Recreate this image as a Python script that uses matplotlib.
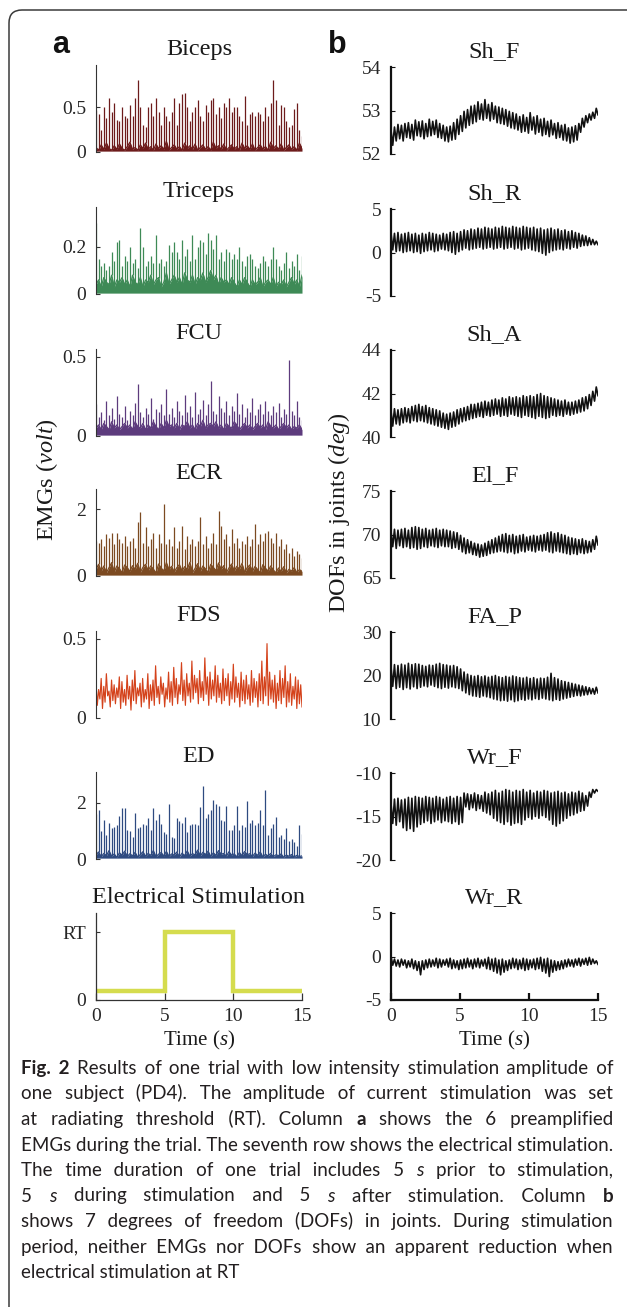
import numpy as np
import matplotlib
matplotlib.use('Agg')
import matplotlib.pyplot as plt
from matplotlib.patches import FancyBboxPatch
from matplotlib.transforms import IdentityTransform

plt.rcParams['font.family'] = ['Liberation Serif', 'DejaVu Serif']
plt.rcParams['mathtext.fontset'] = 'custom'
plt.rcParams['mathtext.rm'] = 'Liberation Serif'
plt.rcParams['mathtext.it'] = 'Liberation Serif:italic'

W, H = 627, 1307

# ---------------------------------------------------------------------------
# Column a: EMG traces (spike peaks and the noise band level between spikes)
# ---------------------------------------------------------------------------
emg_names = ['Biceps', 'Triceps', 'FCU', 'ECR', 'FDS', 'ED']
emg_ytop = [0.97, 0.37, 0.55, 2.6, 0.55, 3.1]
emg_ticks = [[0, 0.5], [0, 0.2], [0, 0.5], [0, 2], [0, 0.5], [0, 2]]
emg_ticklabels = [['0', '0.5'], ['0', '0.2'], ['0', '0.5'], ['0', '2'], ['0', '0.5'], ['0', '2']]

biceps_peaks = [0.47, 0.42, 0.25, 0.50, 0.38, 0.60, 0.45, 0.55, 0.36, 0.35,
                0.50, 0.40, 0.38, 0.52, 0.40, 0.60, 0.80, 0.50, 0.30, 0.28,
                0.50, 0.55, 0.40, 0.60, 0.45, 0.30, 0.50, 0.40, 0.35, 0.45,
                0.60, 0.30, 0.55, 0.65, 0.66, 0.50, 0.35, 0.45, 0.50, 0.58,
                0.40, 0.35, 0.52, 0.45, 0.58, 0.60, 0.42, 0.50, 0.38, 0.55,
                0.50, 0.60, 0.45, 0.50, 0.50, 0.40, 0.35, 0.62, 0.30, 0.42,
                0.45, 0.40, 0.45, 0.42, 0.35, 0.50, 0.40, 0.55, 0.80, 0.58,
                0.30, 0.52, 0.50, 0.35, 0.28, 0.30, 0.48, 0.55, 0.25, 0.18]
biceps_troughs = [0.05, 0.02, 0.08, 0.03, 0.10, 0.04, 0.02, 0.07, 0.03, 0.09,
                  0.04, 0.02, 0.06, 0.11, 0.03, 0.05, 0.02, 0.08, 0.04, 0.10,
                  0.03, 0.06, 0.02, 0.09, 0.04, 0.07, 0.03, 0.12, 0.02, 0.05,
                  0.08, 0.03, 0.06, 0.02, 0.10, 0.04, 0.07, 0.03, 0.09, 0.02,
                  0.05, 0.08, 0.03, 0.06, 0.02, 0.11, 0.04, 0.07, 0.03, 0.09,
                  0.02, 0.05, 0.08, 0.03, 0.06, 0.02, 0.10, 0.04, 0.07, 0.03,
                  0.09, 0.02, 0.05, 0.08, 0.03, 0.06, 0.02, 0.11, 0.04, 0.07,
                  0.03, 0.09, 0.02, 0.05, 0.08, 0.03, 0.06, 0.02, 0.10, 0.04]

triceps_peaks = [0.30, 0.15, 0.12, 0.13, 0.10, 0.12, 0.18, 0.14, 0.22, 0.23,
                 0.12, 0.16, 0.14, 0.20, 0.13, 0.15, 0.11, 0.28, 0.20, 0.12,
                 0.14, 0.16, 0.13, 0.25, 0.13, 0.15, 0.12, 0.14, 0.21, 0.18,
                 0.22, 0.18, 0.15, 0.23, 0.16, 0.19, 0.14, 0.25, 0.15, 0.20,
                 0.23, 0.22, 0.17, 0.26, 0.23, 0.19, 0.25, 0.15, 0.18, 0.14,
                 0.19, 0.18, 0.15, 0.17, 0.15, 0.20, 0.14, 0.12, 0.16, 0.17,
                 0.15, 0.12, 0.11, 0.13, 0.16, 0.14, 0.12, 0.15, 0.20, 0.15,
                 0.12, 0.10, 0.13, 0.18, 0.11, 0.14, 0.12, 0.17, 0.10, 0.16]
triceps_troughs = [0.04, 0.06, 0.03, 0.07, 0.05, 0.04, 0.08, 0.03, 0.06, 0.05,
                   0.07, 0.04, 0.06, 0.03, 0.08, 0.05, 0.04, 0.07, 0.03, 0.06,
                   0.05, 0.08, 0.04, 0.06, 0.07, 0.03, 0.05, 0.09, 0.04, 0.06,
                   0.08, 0.05, 0.07, 0.04, 0.09, 0.06, 0.05, 0.08, 0.04, 0.07,
                   0.06, 0.09, 0.05, 0.07, 0.10, 0.06, 0.08, 0.04, 0.07, 0.05,
                   0.06, 0.04, 0.07, 0.05, 0.03, 0.06, 0.04, 0.07, 0.05, 0.03,
                   0.06, 0.04, 0.05, 0.07, 0.03, 0.05, 0.06, 0.04, 0.07, 0.03,
                   0.05, 0.04, 0.06, 0.03, 0.05, 0.07, 0.04, 0.06, 0.03, 0.08]

fcu_peaks = [0.20, 0.12, 0.15, 0.10, 0.22, 0.13, 0.18, 0.11, 0.25, 0.14,
             0.12, 0.19, 0.10, 0.16, 0.13, 0.21, 0.33, 0.15, 0.12, 0.18,
             0.14, 0.24, 0.11, 0.17, 0.15, 0.20, 0.13, 0.30, 0.14, 0.18,
             0.12, 0.22, 0.16, 0.13, 0.26, 0.15, 0.19, 0.12, 0.28, 0.14,
             0.17, 0.23, 0.13, 0.20, 0.35, 0.16, 0.14, 0.25, 0.18, 0.15,
             0.22, 0.13, 0.19, 0.16, 0.27, 0.14, 0.20, 0.12, 0.18, 0.15,
             0.24, 0.13, 0.17, 0.20, 0.14, 0.22, 0.16, 0.13, 0.19, 0.15,
             0.21, 0.12, 0.17, 0.14, 0.48, 0.16, 0.13, 0.22, 0.12, 0.10]
fcu_troughs = [0.05, 0.07, 0.04, 0.08, 0.06, 0.04, 0.09, 0.05, 0.07, 0.04,
               0.06, 0.08, 0.05, 0.07, 0.04, 0.09, 0.06, 0.05, 0.08, 0.04,
               0.07, 0.05, 0.09, 0.06, 0.04, 0.08, 0.05, 0.10, 0.06, 0.07,
               0.05, 0.08, 0.04, 0.07, 0.06, 0.09, 0.05, 0.07, 0.04, 0.08,
               0.06, 0.10, 0.05, 0.07, 0.08, 0.06, 0.09, 0.05, 0.07, 0.04,
               0.08, 0.06, 0.05, 0.09, 0.07, 0.04, 0.06, 0.08, 0.05, 0.07,
               0.04, 0.06, 0.08, 0.05, 0.07, 0.04, 0.09, 0.06, 0.05, 0.07,
               0.04, 0.06, 0.08, 0.05, 0.07, 0.04, 0.06, 0.05, 0.07, 0.04]

ecr_peaks = [1.05, 1.00, 1.10, 0.90, 1.25, 1.15, 1.30, 0.95, 1.28, 1.10,
             1.00, 1.20, 0.90, 1.05, 1.15, 0.85, 1.60, 1.90, 1.00, 1.45,
             0.90, 1.10, 1.30, 0.85, 1.25, 1.00, 2.15, 0.95, 1.10, 0.90,
             1.45, 0.85, 1.05, 1.50, 0.80, 1.20, 0.95, 1.10, 0.90, 1.05,
             1.75, 0.95, 1.20, 0.85, 1.00, 1.30, 0.95, 1.95, 1.50, 1.10,
             1.25, 0.90, 1.40, 1.00, 1.15, 0.85, 1.05, 0.95, 1.20, 0.90,
             1.10, 1.55, 0.95, 1.25, 1.05, 1.30, 1.35, 1.15, 1.00, 1.30,
             0.90, 1.10, 0.80, 0.95, 0.70, 0.85, 0.60, 0.75, 0.65, 0.55]
ecr_troughs = [0.20, 0.35, 0.15, 0.30, 0.10, 0.25, 0.40, 0.12, 0.30, 0.22,
               0.10, 0.33, 0.25, 0.14, 0.31, 0.20, 0.38, 0.11, 0.26, 0.35,
               0.16, 0.30, 0.21, 0.09, 0.36, 0.24, 0.15, 0.40, 0.19, 0.29,
               0.12, 0.25, 0.34, 0.15, 0.28, 0.20, 0.41, 0.10, 0.23, 0.37,
               0.14, 0.30, 0.21, 0.11, 0.35, 0.26, 0.16, 0.39, 0.20, 0.31,
               0.10, 0.24, 0.36, 0.15, 0.29, 0.21, 0.38, 0.11, 0.25, 0.33,
               0.14, 0.29, 0.19, 0.10, 0.34, 0.23, 0.15, 0.30, 0.18, 0.10,
               0.24, 0.14, 0.28, 0.09, 0.20, 0.15, 0.25, 0.10, 0.19, 0.14]

fds_peaks = [0.22, 0.18, 0.25, 0.20, 0.28, 0.17, 0.24, 0.21, 0.19, 0.26,
             0.23, 0.18, 0.27, 0.20, 0.24, 0.30, 0.19, 0.22, 0.25, 0.18,
             0.28, 0.21, 0.24, 0.33, 0.20, 0.26, 0.22, 0.19, 0.29, 0.23,
             0.32, 0.25, 0.21, 0.35, 0.24, 0.28, 0.22, 0.36, 0.27, 0.25,
             0.30, 0.23, 0.38, 0.26, 0.29, 0.24, 0.33, 0.27, 0.22, 0.31,
             0.25, 0.28, 0.23, 0.34, 0.26, 0.22, 0.29, 0.24, 0.27, 0.21,
             0.30, 0.25, 0.23, 0.28, 0.36, 0.26, 0.47, 0.29, 0.24, 0.27,
             0.22, 0.30, 0.25, 0.33, 0.23, 0.28, 0.20, 0.26, 0.24, 0.21]
fds_troughs = [0.08, 0.12, 0.06, 0.10, 0.14, 0.07, 0.11, 0.09, 0.13, 0.06,
               0.10, 0.08, 0.12, 0.05, 0.11, 0.09, 0.14, 0.07, 0.10, 0.12,
               0.06, 0.11, 0.08, 0.13, 0.09, 0.15, 0.07, 0.12, 0.10, 0.08,
               0.13, 0.09, 0.15, 0.11, 0.08, 0.14, 0.10, 0.12, 0.16, 0.09,
               0.13, 0.11, 0.15, 0.08, 0.12, 0.14, 0.10, 0.13, 0.09, 0.11,
               0.14, 0.08, 0.12, 0.10, 0.13, 0.07, 0.11, 0.09, 0.12, 0.08,
               0.10, 0.13, 0.07, 0.11, 0.09, 0.14, 0.08, 0.12, 0.10, 0.06,
               0.11, 0.09, 0.13, 0.07, 0.10, 0.08, 0.12, 0.06, 0.09, 0.07]

ed_peaks = [1.60, 1.75, 1.00, 1.40, 0.85, 1.30, 1.10, 1.15, 1.20, 1.55,
            1.80, 1.80, 1.05, 1.00, 0.80, 1.65, 1.10, 1.15, 1.25, 1.20,
            1.45, 1.05, 1.80, 1.40, 1.60, 1.25, 0.95, 0.90, 1.95, 0.80,
            0.75, 1.45, 1.35, 1.30, 1.50, 0.95, 1.20, 1.25, 1.25, 1.20,
            1.85, 2.60, 1.45, 1.60, 1.75, 2.10, 1.95, 1.90, 1.40, 1.35,
            1.90, 1.05, 1.05, 1.20, 1.90, 1.05, 1.20, 1.15, 2.05, 1.30,
            1.40, 1.20, 1.30, 1.75, 1.20, 2.45, 0.85, 1.10, 1.25, 1.50,
            0.80, 0.85, 0.70, 1.10, 0.65, 0.70, 0.60, 0.45, 1.20, 0.90]
ed_troughs = [0.15, 0.25, 0.08, 0.20, 0.12, 0.30, 0.10, 0.18, 0.06, 0.22,
              0.14, 0.28, 0.09, 0.19, 0.11, 0.24, 0.07, 0.16, 0.26, 0.10,
              0.20, 0.13, 0.30, 0.08, 0.17, 0.23, 0.11, 0.27, 0.09, 0.18,
              0.14, 0.25, 0.07, 0.21, 0.12, 0.29, 0.10, 0.19, 0.15, 0.32,
              0.11, 0.24, 0.16, 0.28, 0.09, 0.22, 0.13, 0.30, 0.17, 0.20,
              0.10, 0.26, 0.14, 0.18, 0.08, 0.23, 0.12, 0.27, 0.15, 0.19,
              0.09, 0.21, 0.13, 0.25, 0.07, 0.17, 0.11, 0.20, 0.08, 0.15,
              0.12, 0.18, 0.06, 0.14, 0.10, 0.16, 0.07, 0.13, 0.09, 0.11]

emg_peaks = [biceps_peaks, triceps_peaks, fcu_peaks, ecr_peaks, fds_peaks, ed_peaks]
emg_troughs = [biceps_troughs, triceps_troughs, fcu_troughs, ecr_troughs, fds_troughs, ed_troughs]
# FDS is a dense noise band rather than separate spikes
emg_dense = [False, False, False, False, True, False]

# electrical stimulation: step to RT between 5 s and 10 s
stim_t = [0, 5, 5, 10, 10, 15]
stim_v = [0.13, 0.13, 1.0, 1.0, 0.13, 0.13]

# ---------------------------------------------------------------------------
# Column b: joint DOFs (upper / lower swing of each oscillation cycle)
# ---------------------------------------------------------------------------
dof_names = ['Sh_F', 'Sh_R', 'Sh_A', 'El_F', 'FA_P', 'Wr_F', 'Wr_R']
dof_ylims = [(52, 54), (-5, 5), (40, 44), (65, 75), (10, 30), (-20, -10), (-5, 5)]
dof_ticks = [[52, 53, 54], [-5, 0, 5], [40, 42, 44], [65, 70, 75],
             [10, 20, 30], [-20, -15, -10], [-5, 0, 5]]

sh_f_hi = [52.55, 52.62, 52.68, 52.66, 52.70, 52.72, 52.68, 52.78, 52.74, 52.76,
           52.70, 52.80, 52.75, 52.78, 52.70, 52.66, 52.62, 52.64, 52.72, 52.80,
           52.88, 52.98, 53.02, 53.10, 53.12, 53.20, 53.15, 53.25, 53.14, 53.18,
           53.10, 53.08, 53.05, 53.02, 52.98, 52.95, 52.92, 52.86, 52.90, 52.84,
           52.95, 52.85, 52.88, 52.80, 52.82, 52.75, 52.78, 52.70, 52.72, 52.66,
           52.68, 52.60, 52.62, 52.65, 52.70, 52.82, 52.88, 52.92, 52.96, 53.05]
sh_f_lo = [52.20, 52.30, 52.35, 52.30, 52.38, 52.36, 52.32, 52.42, 52.40, 52.35,
           52.40, 52.42, 52.45, 52.38, 52.36, 52.30, 52.28, 52.32, 52.34, 52.45,
           52.52, 52.60, 52.66, 52.70, 52.74, 52.80, 52.78, 52.82, 52.76, 52.80,
           52.72, 52.70, 52.68, 52.64, 52.60, 52.58, 52.55, 52.50, 52.52, 52.48,
           52.55, 52.46, 52.50, 52.42, 52.45, 52.40, 52.44, 52.36, 52.38, 52.32,
           52.30, 52.25, 52.28, 52.32, 52.50, 52.62, 52.72, 52.78, 52.82, 52.90]

sh_r_hi = [2.3, 2.2, 2.3, 2.1, 2.2, 2.3, 2.1, 2.2, 2.0, 2.2,
           2.1, 2.3, 2.2, 2.1, 2.0, 2.2, 2.1, 2.3, 2.4, 2.2,
           2.4, 2.6, 2.5, 2.7, 2.6, 2.8, 2.7, 2.9, 2.8, 2.7,
           2.9, 2.8, 3.0, 2.9, 2.8, 3.0, 2.9, 2.8, 3.0, 2.9,
           2.8, 2.9, 2.7, 2.8, 2.6, 2.7, 2.8, 2.6, 2.7, 2.5,
           2.6, 2.4, 2.5, 2.3, 2.2, 2.0, 1.9, 1.7, 1.5, 1.3]
sh_r_lo = [0.3, 0.1, 0.2, 0.0, 0.1, 0.2, 0.0, 0.1, -0.1, 0.1,
           0.2, 0.3, 0.1, 0.2, 0.4, 0.3, 0.2, 0.0, -0.2, 0.1,
           0.3, 0.5, 0.3, 0.4, 0.5, 0.6, 0.4, 0.5, 0.6, 0.4,
           0.5, 0.6, 0.4, 0.5, 0.6, 0.4, 0.5, 0.3, 0.4, 0.5,
           0.3, 0.2, 0.1, -0.1, -0.3, 0.0, 0.2, 0.3, 0.4, 0.3,
           0.5, 0.4, 0.6, 0.5, 0.7, 0.8, 0.8, 0.9, 0.9, 0.9]

sh_a_hi = [41.20, 41.30, 41.25, 41.30, 41.35, 41.30, 41.40, 41.45, 41.50, 41.40,
           41.45, 41.35, 41.30, 41.25, 41.20, 41.10, 41.05, 41.10, 41.15, 41.25,
           41.30, 41.35, 41.40, 41.50, 41.50, 41.55, 41.60, 41.65, 41.60, 41.70,
           41.75, 41.70, 41.80, 41.75, 41.85, 41.80, 41.85, 41.80, 41.90, 41.85,
           41.90, 41.85, 41.95, 42.00, 41.90, 41.85, 41.80, 41.75, 41.70, 41.65,
           41.70, 41.60, 41.60, 41.65, 41.70, 41.80, 41.85, 41.95, 42.10, 42.30]
sh_a_lo = [40.50, 40.60, 40.55, 40.65, 40.70, 40.65, 40.75, 40.70, 40.75, 40.70,
           40.65, 40.60, 40.55, 40.50, 40.45, 40.40, 40.35, 40.45, 40.50, 40.60,
           40.70, 40.75, 40.80, 40.85, 40.90, 40.95, 40.90, 41.00, 40.95, 41.00,
           41.05, 40.95, 41.00, 40.95, 41.05, 41.00, 40.95, 40.90, 41.00, 40.95,
           40.90, 40.85, 40.95, 40.90, 40.85, 40.90, 41.00, 40.95, 41.00, 40.95,
           41.05, 41.00, 41.05, 41.10, 41.15, 41.20, 41.30, 41.45, 41.65, 41.90]

el_f_hi = [70.4, 70.6, 70.5, 70.6, 70.7, 70.5, 70.8, 70.9, 70.8, 70.6,
           70.7, 70.5, 70.6, 70.7, 70.5, 70.6, 70.5, 70.4, 70.3, 70.2,
           69.9, 69.6, 69.4, 69.2, 69.0, 68.9, 68.8, 69.0, 69.2, 69.4,
           69.6, 69.8, 70.0, 70.1, 69.9, 70.0, 69.8, 69.9, 70.0, 69.7,
           69.8, 69.9, 69.8, 69.9, 70.0, 70.2, 70.3, 70.1, 70.2, 70.0,
           69.9, 69.7, 69.6, 69.5, 69.4, 69.5, 69.3, 69.2, 69.4, 69.8]
el_f_lo = [68.6, 68.4, 68.7, 68.5, 68.6, 68.4, 68.5, 68.3, 68.4, 68.6,
           68.5, 68.7, 68.6, 68.5, 68.7, 68.6, 68.6, 68.4, 68.5, 68.3,
           68.0, 67.8, 67.9, 67.7, 67.6, 67.4, 67.5, 67.6, 67.8, 67.9,
           68.0, 68.1, 68.0, 67.9, 68.0, 67.8, 67.9, 68.1, 68.0, 68.2,
           68.1, 68.0, 68.2, 68.1, 68.2, 68.0, 67.9, 68.1, 68.0, 67.9,
           67.8, 67.7, 67.8, 67.7, 67.9, 67.8, 67.9, 68.0, 68.3, 68.8]

fa_p_hi = [22.0, 22.5, 22.3, 22.6, 22.4, 22.8, 22.5, 22.7, 22.6, 22.3,
           22.1, 22.4, 22.3, 22.6, 22.8, 22.5, 22.4, 22.2, 22.3, 22.0,
           21.5, 20.8, 20.3, 20.0, 19.8, 20.0, 19.7, 19.9, 19.6, 19.8,
           20.0, 19.7, 19.5, 19.8, 19.6, 19.9, 19.7, 19.5, 19.4, 19.6,
           19.3, 19.5, 19.2, 19.4, 19.3, 19.6, 20.5, 19.5, 19.2, 18.8,
           18.6, 18.4, 18.2, 18.0, 17.8, 17.6, 17.4, 17.2, 17.0, 17.3]
fa_p_lo = [17.5, 17.0, 17.3, 16.8, 17.2, 16.9, 17.4, 17.0, 17.3, 17.6,
           17.4, 17.8, 17.5, 17.2, 17.0, 17.3, 17.1, 17.4, 17.2, 17.0,
           16.5, 16.0, 15.6, 15.3, 15.2, 15.0, 15.3, 15.1, 14.9, 14.6,
           14.4, 14.2, 14.3, 14.1, 14.4, 14.0, 14.2, 14.5, 14.3, 14.6,
           14.4, 14.7, 14.5, 14.8, 14.6, 14.4, 14.2, 14.5, 14.3, 14.6,
           14.8, 15.0, 15.2, 15.4, 15.3, 15.5, 15.6, 15.8, 15.7, 16.0]

wr_f_hi = [-13.5, -13.0, -12.9, -13.1, -13.0, -12.8, -12.9, -12.7, -12.8, -12.9,
           -12.7, -12.8, -12.9, -12.7, -12.8, -13.0, -12.8, -12.7, -12.9, -12.7,
           -12.8, -12.3, -12.4, -12.5, -12.3, -12.5, -12.6, -12.2, -12.4, -12.2,
           -12.0, -12.3, -12.1, -11.9, -12.0, -12.2, -12.0, -12.1, -11.9, -12.2,
           -12.0, -12.3, -12.1, -12.2, -12.0, -12.1, -12.3, -12.2, -12.1, -12.3,
           -12.2, -12.4, -12.2, -12.3, -12.1, -12.3, -12.6, -12.2, -11.9, -11.9]
wr_f_lo = [-15.8, -16.0, -15.6, -16.3, -16.6, -16.4, -16.7, -16.2, -15.9, -15.7,
           -15.5, -15.8, -15.6, -15.4, -15.7, -15.5, -15.6, -15.8, -15.6, -15.9,
           -15.7, -13.9, -14.2, -14.0, -14.3, -14.1, -14.4, -14.6, -14.8, -15.2,
           -15.5, -15.7, -15.9, -15.6, -16.0, -15.8, -15.7, -15.9, -15.4, -15.1,
           -15.3, -15.0, -15.2, -14.9, -15.1, -15.4, -15.9, -16.1, -15.8, -15.5,
           -15.2, -14.9, -14.8, -14.6, -14.4, -14.3, -13.8, -12.8, -12.3, -12.1]

wr_r_hi = [0.0, -0.3, -0.4, -0.3, -0.4, -0.5, -0.3, -0.5, -0.6, -0.5,
           -0.4, -0.3, -0.4, -0.2, -0.3, -0.4, -0.3, -0.2, -0.4, -0.5,
           -0.4, -0.3, -0.2, -0.4, -0.3, -0.2, -0.4, -0.3, -0.1, -0.3,
           -0.2, -0.4, -0.3, -0.5, -0.4, -0.2, -0.3, -0.4, -0.2, -0.3,
           -0.4, -0.3, -0.2, -0.1, -0.3, -0.2, -0.4, -0.5, -0.6, -0.5,
           -0.4, -0.3, -0.4, -0.3, -0.2, -0.3, -0.2, -0.1, -0.3, -0.5]
wr_r_lo = [-1.0, -1.1, -1.2, -1.0, -1.3, -1.2, -1.4, -1.6, -2.1, -1.5,
           -1.3, -1.2, -1.1, -1.3, -1.2, -1.0, -1.2, -1.4, -1.3, -1.5,
           -1.4, -1.3, -1.2, -1.4, -1.2, -1.3, -1.1, -1.4, -1.5, -1.7,
           -1.9, -2.1, -1.8, -1.6, -1.4, -1.3, -1.5, -1.4, -1.6, -1.5,
           -1.3, -1.5, -1.4, -1.7, -1.9, -2.3, -1.8, -1.6, -1.5, -1.4,
           -1.2, -1.1, -1.2, -1.0, -1.1, -0.9, -1.0, -0.9, -0.8, -0.9]

dof_hi = [sh_f_hi, sh_r_hi, sh_a_hi, el_f_hi, fa_p_hi, wr_f_hi, wr_r_hi]
dof_lo = [sh_f_lo, sh_r_lo, sh_a_lo, el_f_lo, fa_p_lo, wr_f_lo, wr_r_lo]

time_ticks = [0, 5, 10, 15]

# ---------------------------------------------------------------------------
# Caption (runs: text, weight, style)
# ---------------------------------------------------------------------------
caption = [
    [("Fig. 2", "bold", "normal"),
     ("Results of one trial with low intensity stimulation amplitude of", "normal", "normal")],
    [("one subject (PD4). The amplitude of current stimulation was set", "normal", "normal")],
    [("at radiating threshold (RT). Column", "normal", "normal"), ("a", "bold", "normal"),
     ("shows the 6 preamplified", "normal", "normal")],
    [("EMGs during the trial. The seventh row shows the electrical stimulation.", "normal", "normal")],
    [("The time duration of one trial includes 5", "normal", "normal"), ("s", "normal", "italic"),
     ("prior to stimulation,", "normal", "normal")],
    [("5", "normal", "normal"), ("s", "normal", "italic"),
     ("during stimulation and 5", "normal", "normal"), ("s", "normal", "italic"),
     ("after stimulation. Column", "normal", "normal"), ("b", "bold", "normal")],
    [("shows 7 degrees of freedom (DOFs) in joints. During stimulation", "normal", "normal")],
    [("period, neither EMGs nor DOFs show an apparent reduction when", "normal", "normal")],
    [("electrical stimulation at RT", "normal", "normal")],
]

# ---------------------------------------------------------------------------
# Layout (pixels)
# ---------------------------------------------------------------------------
fig = plt.figure(figsize=(W / 100, H / 100), dpi=100)
fig.patch.set_facecolor('white')

col_a_left, col_a_width = 96, 206
col_b_left, col_b_width = 391, 207
col_a_tops = [65, 207, 349, 489, 631, 772, 913]
col_b_tops = [67, 209, 350, 491, 632, 773, 913]
panel_h = 87

text_col = '#1a1a1a'
tick_col = '#262626'


def px_axes(left, top, width, height):
    return fig.add_axes([left / W, 1 - (top + height) / H, width / W, height / H])


def style_axes(ax, spine_w, spine_c, bottom):
    for s in ['top', 'right']:
        ax.spines[s].set_visible(False)
    ax.spines['left'].set_linewidth(spine_w)
    ax.spines['left'].set_color(spine_c)
    ax.patch.set_alpha(0)
    ax.tick_params(axis='y', direction='in', length=3, width=0.8, pad=7,
                   labelsize=14, labelcolor=tick_col, color=spine_c)
    if bottom:
        ax.spines['bottom'].set_linewidth(spine_w)
        ax.spines['bottom'].set_color(spine_c)
        ax.set_xticks(time_ticks)
        ax.set_xticklabels([str(v) for v in time_ticks])
        ax.tick_params(axis='x', direction='in', length=5, width=spine_w, pad=6,
                       labelsize=14, labelcolor=tick_col, color=spine_c)
    else:
        ax.spines['bottom'].set_visible(False)
        ax.set_xticks([])
    ax.set_xlim(0, 15)


emg_colors = ['#6d1b1b', '#3e8a56', '#5d3b7d', '#7c4a21', '#d4421b', '#2e4a80']

for i, name in enumerate(emg_names):
    ax = px_axes(col_a_left, col_a_tops[i], col_a_width, panel_h)
    pk, tr = emg_peaks[i], emg_troughs[i]
    c = emg_colors[i]
    if emg_dense[i]:
        n = len(pk) * 2
        y = np.empty(n)
        y[0::2] = pk
        y[1::2] = tr
        ax.plot(np.linspace(0, 15, n), y, color=c, lw=0.85)
    else:
        t_spk = np.linspace(0, 15, len(pk))
        ax.fill_between(t_spk, 0.01 * emg_ytop[i], tr, color=c, lw=0)
        ax.vlines(t_spk, tr, pk, color=c, lw=0.9)
        ax.plot(t_spk, tr, color=c, lw=0.9)
    ax.set_ylim(0, emg_ytop[i])
    ax.set_yticks(emg_ticks[i])
    ax.set_yticklabels(emg_ticklabels[i])
    style_axes(ax, 0.8, '#333333', bottom=False)
    ax.set_title(name, fontsize=17.5, pad=7, color=text_col)

# stimulation panel
ax = px_axes(col_a_left, col_a_tops[6], col_a_width, panel_h)
ax.plot(stim_t, stim_v, color='#d5dc4e', lw=3.2, solid_joinstyle='miter')
ax.set_ylim(0, 1.28)
ax.set_yticks([0, 1])
ax.set_yticklabels(['0', 'RT'])
style_axes(ax, 0.9, '#333333', bottom=True)
ax.set_title('Electrical Stimulation', fontsize=17.5, pad=7, color=text_col)

n_dof = len(sh_f_hi) * 2
t_dof = np.linspace(0, 15, n_dof)
for i, name in enumerate(dof_names):
    ax = px_axes(col_b_left, col_b_tops[i], col_b_width, panel_h)
    y = np.empty(n_dof)
    y[0::2] = dof_hi[i]
    y[1::2] = dof_lo[i]
    ax.plot(t_dof, y, color='#111111', lw=1.2)
    ax.set_ylim(*dof_ylims[i])
    ax.set_yticks(dof_ticks[i])
    ax.set_yticklabels([str(v) for v in dof_ticks[i]])
    style_axes(ax, 1.6, '#111111', bottom=(i == len(dof_names) - 1))
    ax.set_title(name, fontsize=17.5, pad=7, color=text_col)

# axis labels
fig.text(47 / W, 1 - 480 / H, r'EMGs $\mathit{(volt)}$', rotation=90,
         ha='center', va='center', fontsize=17.5, color=text_col)
fig.text(339 / W, 1 - 513 / H, r'DOFs in joints $\mathit{(deg)}$', rotation=90,
         ha='center', va='center', fontsize=17.5, color=text_col)
for cx in [col_a_left + col_a_width / 2, col_b_left + col_b_width / 2]:
    fig.text(cx / W, 1 - 1045 / H, r'Time $\mathit{(s)}$', ha='center',
             va='baseline', fontsize=15, color=text_col)

# panel letters
sans_bold = ['Liberation Sans', 'DejaVu Sans']
fig.text(52 / W, 1 - 53 / H, 'a', family=sans_bold, weight='bold', fontsize=22,
         va='baseline', color='#111111')
fig.text(328 / W, 1 - 53 / H, 'b', family=sans_bold, weight='bold', fontsize=22,
         va='baseline', color='#111111')

# frame around the figure
frame = FancyBboxPatch((9, -40), 640, H - 10 + 40,
                       boxstyle='round,pad=0,rounding_size=13',
                       transform=IdentityTransform(), facecolor='none',
                       edgecolor='#3a3a3a', linewidth=1.1)
fig.add_artist(frame)

# ---------------------------------------------------------------------------
# Justified caption: one text per style run; each word gap is built from
# normal spaces plus hair spaces so the gaps come out even
# ---------------------------------------------------------------------------
cap_font = ['Lato', 'DejaVu Sans']
cap_color = '#231f20'
HAIR = '\u200a'
renderer = fig.canvas.get_renderer()


def text_width(s, weight, style, fs):
    t = fig.text(0, 0, s, family=cap_font, weight=weight, style=style, fontsize=fs)
    w = t.get_window_extent(renderer).width
    t.remove()
    return w


def insert_width(ch, weight, style, fs):
    return (text_width('x' + ch + 'x', weight, style, fs) - text_width('xx', weight, style, fs))


cap_left, cap_right = 21, 613
probe = 13.0
w4 = caption[3][0][0].split()
natural = (sum(text_width(w, 'normal', 'normal', probe) for w in w4)
           + insert_width(' ', 'normal', 'normal', probe) * (len(w4) - 1))
cap_fs = probe * (cap_right - cap_left - 2) / natural

cap_top_baseline = 1074
cap_step = 25.5
for li, runs in enumerate(caption):
    words = []
    for ri, (txt, weight, style) in enumerate(runs):
        for w in txt.split():
            words.append((w, weight, style, ri))
    widths = [text_width(w, wt, st, cap_fs) for w, wt, st, _ in words]
    if li < len(caption) - 1 and len(words) > 1:
        gap = (cap_right - cap_left - sum(widths)) / (len(words) - 1)
    else:
        gap = insert_width(' ', 'normal', 'normal', cap_fs)
    starts = []
    x = cap_left
    for w in widths:
        starts.append(x)
        x += w + gap
    yb = 1 - (cap_top_baseline + li * cap_step) / H
    for ri, (txt, weight, style) in enumerate(runs):
        idx = [j for j, wd in enumerate(words) if wd[3] == ri]
        x0 = starts[idx[0]]
        sp = insert_width(' ', weight, style, cap_fs)
        hair = max(insert_width(HAIR, weight, style, cap_fs), 0.3)
        s = words[idx[0]][0]
        for j in idx[1:]:
            cur = text_width(s, weight, style, cap_fs)
            need = starts[j] - x0 - cur
            k = max(1, int(need // sp))
            m = max(0, int(round((need - k * sp) / hair)))
            s = s + ' ' * k + HAIR * m + words[j][0]
        fig.text(x0 / W, yb, s, family=cap_font, weight=weight, style=style,
                 fontsize=cap_fs, va='baseline', ha='left', color=cap_color)

fig.savefig('out.png', dpi=100, facecolor='white')
